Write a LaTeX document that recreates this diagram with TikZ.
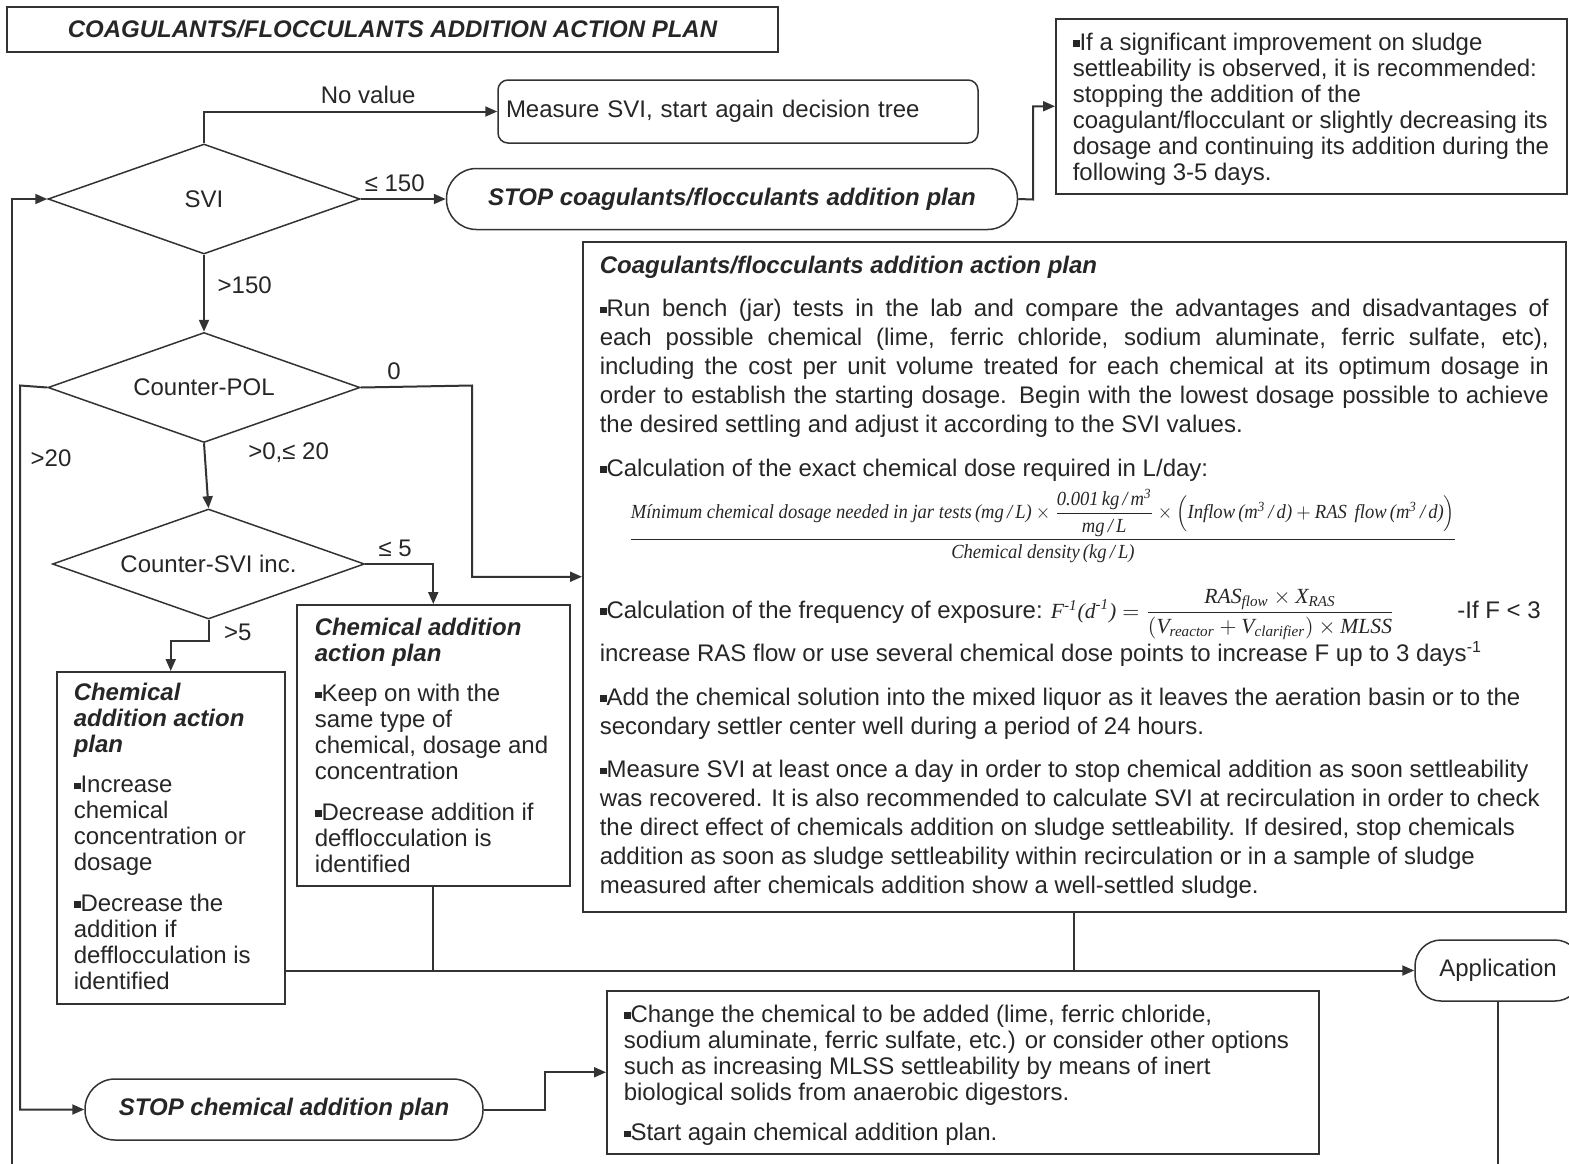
\documentclass[tikz,border=0pt]{standalone}
\usepackage{amsmath}
\usepackage{fontspec}
\setmainfont{Liberation Sans}
\newfontfamily\eqfont{Liberation Serif}
\usetikzlibrary{shapes.geometric,arrows.meta,positioning}

\definecolor{ink}{HTML}{262626}
\definecolor{edge}{HTML}{333333}

% small square bullet and fixed-size text blocks
\newcommand\blt{\raisebox{1.6pt}{\rule{3.4pt}{3.4pt}}}
\newcommand\boxtext[3]{\parbox[t][#2][t]{#1}{\setlength\parskip{7.25pt}#3}}
\newcommand\notetext[3]{\makebox[#1][l]{\boxtext{\dimexpr#1+10pt\relax}{#2}{#3}}}

\tikzset{
  every node/.style={text=ink, font=\fontsize{12}{13}\selectfont},
  line/.style={draw=edge, line width=1pt},
  flow/.style={line, -{Triangle[length=6pt,width=5pt]}},
  note/.style={draw=edge, line width=0.75pt, anchor=north west, inner xsep=8.5pt, inner ysep=7pt},
  decision/.style={diamond, draw=edge, line width=0.75pt, aspect=2.8, inner sep=1pt,
    minimum width=156pt, minimum height=55pt},
  stopper/.style={draw=edge, line width=0.75pt, rounded corners=15pt, minimum height=30.5pt,
    font=\fontsize{12}{13}\selectfont\bfseries\itshape},
}

\begin{document}
\begin{tikzpicture}[x=0.5pt, y=-0.5pt]
\useasboundingbox (0,0) rectangle (1569,1163);

\node[draw=edge, line width=0.75pt, minimum width=385.5pt, minimum height=22.5pt,
  font=\fontsize{12}{13}\selectfont\bfseries\itshape] (title) at (392.5,29.5)
  {COAGULANTS/FLOCCULANTS ADDITION ACTION PLAN};

% decision tree
\node[decision] (svi) at (204,199) {SVI};
\node[decision, below=38.5pt of svi] (pol) {Counter-POL};
\node[decision, below=32.5pt of pol, xshift=2.25pt] (svin) {Counter-SVI inc.};

\node[draw=edge, line width=0.75pt, rounded corners=5pt, minimum width=240pt, minimum height=31.5pt,
  text width=232pt, align=left, inner xsep=4pt] (measure) at (738,111.5)
  {Measure SVI, start again decision tree};
\node[stopper, minimum width=285.5pt, right=42.5pt of svi] (stopcoag)
  {STOP coagulants/flocculants addition plan};
\node[stopper, minimum width=199pt] (stopchem) at (284,1109.5) {STOP chemical addition plan};
\node[draw=edge, line width=0.75pt, rounded corners=13pt, minimum width=83pt, minimum height=30.5pt]
  (app) at (1498,970.5) {Application};

% text boxes
\node[note] (stopnote) at (1055,18) {\notetext{238.5pt}{73.5pt}{%
  \blt If a significant improvement on sludge\\
  settleability is observed, it is recommended:\\
  stopping the addition of the\\
  coagulant/flocculant or slightly decreasing its\\
  dosage and continuing its addition during the\\
  following 3-5 days.}};

\node[note] (plan) at (582,241) {\boxtext{474.5pt}{321pt}{\fontsize{12}{14.5}\selectfont
  {\bfseries\itshape Coagulants/flocculants addition action plan\par}
  \blt Run bench (jar) tests in the lab and compare the advantages and disadvantages of\linebreak
  each possible chemical (lime, ferric chloride, sodium aluminate, ferric sulfate, etc),\linebreak
  including the cost per unit volume treated for each chemical at its optimum dosage in\linebreak
  order to establish the starting dosage. Begin with the lowest dosage possible to achieve\linebreak
  the desired settling and adjust it according to the SVI values.\par
  \blt Calculation of the exact chemical dose required in L/day:\par
  \vspace{12.5pt}\hspace*{14.5pt}\smash{\scalebox{0.93}[1]{\eqfont\itshape\fontsize{10}{12}\selectfont
  $\dfrac{\text{Mínimum chemical dosage needed in jar tests\,(mg\,/\,L)}\times
    \dfrac{\text{0.001\,kg\,/\,m\textsuperscript{3}}}{\text{mg\,/\,L}}\times
    \Bigl(\text{Inflow\,(m\textsuperscript{3}\,/\,d)}+\text{RAS \,flow\,(m\textsuperscript{3}\,/\,d)}\Bigr)}
    {\text{Chemical density\,(kg\,/\,L)}}$}}\par
  \vspace{15pt}\blt Calculation of the frequency of exposure:\hspace{4pt}\smash{{\eqfont\itshape\fontsize{10.8}{12}\selectfont
  $\text{F}^{\text{-1}}\text{(d}^{\text{-1}}\text{)}=
    \dfrac{\text{RAS}_{\text{flow}}\times\text{X}_{\text{RAS}}}
    {(\text{V}_{\text{reactor}}+\text{V}_{\text{clarifier}})\times\text{MLSS}}$}}\hfill-If F < 3\hspace*{4pt}\par
  increase RAS flow or use several chemical dose points to increase F up to 3 days\textsuperscript{-1}\par
  \blt Add the chemical solution into the mixed liquor as it leaves the aeration basin or to the\\
  secondary settler center well during a period of 24 hours.\par
  \blt Measure SVI at least once a day in order to stop chemical addition as soon settleability\\
  was recovered. It is also recommended to calculate SVI at recirculation in order to check\\
  the direct effect of chemicals addition on sludge settleability. If desired, stop chemicals\\
  addition as soon as sludge settleability within recirculation or in a sample of sludge\\
  measured after chemicals addition show a well-settled sludge.}};

\node[note, inner xsep=9pt, inner ysep=6.5pt] (keep) at (296,604) {\notetext{118.5pt}{127.5pt}{%
  {\bfseries\itshape Chemical addition\\ action plan\par}
  \blt Keep on with the\\ same type of\\ chemical, dosage and\\ concentration\par
  \blt Decrease addition if\\ defflocculation is\\ identified}};

\node[note, inner ysep=5.5pt] (inc) at (56,671) {\notetext{97pt}{155pt}{%
  {\bfseries\itshape Chemical\\ addition action\\ plan\par}
  \blt Increase\\ chemical\\ concentration or\\ dosage\par
  \blt Decrease the\\ addition if\\ defflocculation is\\ identified}};

\node[note] (change) at (606,990) {\notetext{339pt}{67.5pt}{%
  \blt Change the chemical to be added (lime, ferric chloride,\\
  sodium aluminate, ferric sulfate, etc.) or consider other options\\
  such as increasing MLSS settleability by means of inert\\
  biological solids from anaerobic digestors.\par
  \blt Start again chemical addition plan.}};

% bends
\coordinate (noteturn) at (1033,199.5);
\coordinate (zeroturn) at (472,385.5);
\coordinate (twentyturn) at (20,385.5);
\coordinate (fiveturn) at (208.5,641);
\coordinate (stopturn) at (545,1109.5);
\coordinate (loopend) at (12,1190);

% connectors
\draw[flow] (svi.north) |- node[above, pos=0.78] {No value} (measure.west);
\draw[flow] (svi.east) -- node[above, pos=0.4] {≤ 150} (stopcoag.west);
\draw[flow] (stopcoag.east) -- (noteturn) |- (stopnote.west);
\draw[flow] (svi.south) -- node[right=3pt, pos=0.4] {>150} (pol.north);
\draw[flow] (pol.east) -- node[above, pos=0.3] {0} (zeroturn) |- (plan.west);
\draw[flow] (pol.west) -- (twentyturn) |- node[right=1.5pt, pos=0.05] {>20} (stopchem.west);
\draw[flow] (pol.south) -- node[right=18pt, pos=0.15] {>0,≤ 20} (svin.north);
\draw[flow] (svin.east) -| node[above, pos=0.22] {≤ 5} (keep.north);
\draw[flow] (svin.south) -- node[right=4pt, pos=0.6] {>5} (fiveturn) -| (inc.north);
\draw[flow] (inc.east |- app.west) -- (app.west);
\draw[line] (keep.south) -- (keep.south |- app.west);
\draw[line] (plan.south) -- (plan.south |- app.west);
\draw[flow] (app.south) |- (loopend) |- (svi.west);
\draw[flow] (stopchem.east) -- (stopturn) |- (change.west);
\end{tikzpicture}
\end{document}
